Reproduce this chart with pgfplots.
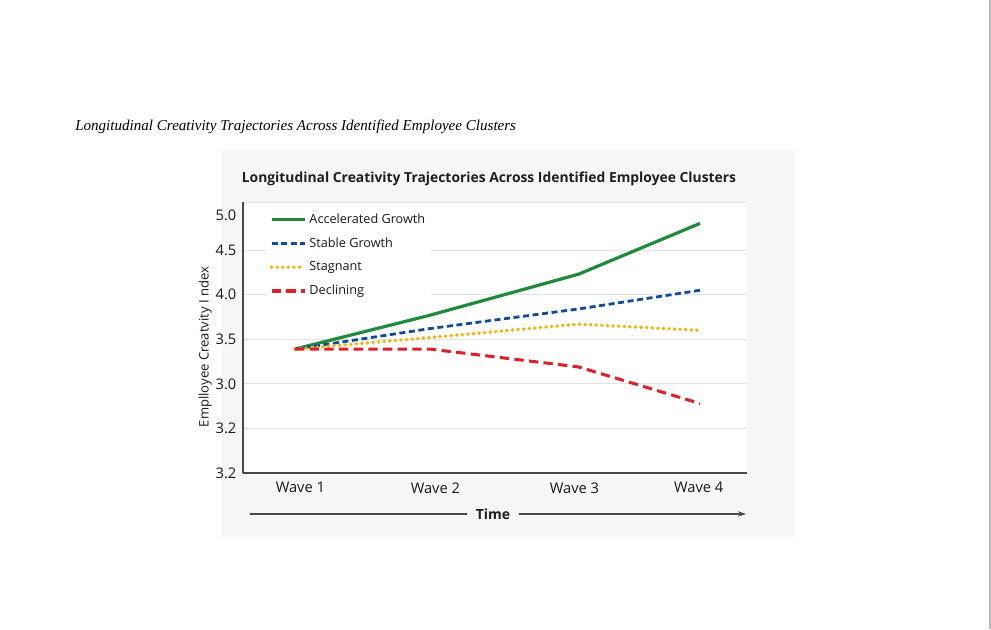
\documentclass[border=0pt]{standalone}
\usepackage{pgfplots}
\pgfplotsset{compat=1.18}
\usepackage{fontspec}
\setmainfont{Liberation Serif}
\newfontfamily\chartfont{Open Sans}
\usetikzlibrary{arrows.meta}

\definecolor{cgreen}{HTML}{1F8A3B}
\definecolor{cblue}{HTML}{0F4C9E}
\definecolor{cyellow}{HTML}{F5B30A}
\definecolor{cred}{HTML}{E02028}
\definecolor{cbox}{HTML}{F7F7F7}
\definecolor{caxis}{HTML}{4A4A4A}

\begin{document}
\begin{tikzpicture}[x=0.75pt,y=0.75pt]
\path[fill=white,use as bounding box] (0,0) rectangle (991,629);
\fill[cbox] (222,92) rectangle (795,479);
\draw[gray!55,line width=1.2pt] (990,0) -- (990,629);
\coordinate (O) at (243,156);

\node[anchor=west,inner sep=0pt,font=\fontsize{11.3}{13}\selectfont\itshape]
  at (75,502) {Longitudinal Creativity Trajectories Across Identified Employee Clusters};

\node[inner sep=0pt,font=\chartfont\bfseries\fontsize{10.4}{13}\selectfont,text=black!88]
  at (489,450) {Longitudinal Creativity Trajectories Across Identified Employee Clusters};

\begin{axis}[
at={(O)}, anchor=south west,
scale only axis,
width=378pt,
height=203.25pt,
axis background/.style={fill=white},
xmin=0.615, xmax=4.348,
ymin=2.0, ymax=5.04,
axis x line=bottom,
axis y line=left,
axis line style={draw=caxis,line width=1.1pt,-},
major tick length=0pt,
xtick={1.04,2.04,3.07,3.99},
xticklabels={Wave 1,Wave 2,Wave 3,Wave 4},
ytick={2.0,2.5,3.0,3.5,4.0,4.5,5.04},
yticklabels={3.2,3.2,3.0,3.5,4.0,4.5,{}},
extra y ticks={4.89},
extra y tick labels={5.0},
extra y tick style={grid=none},
ymajorgrids,
major grid style={draw=gray!22,line width=0.7pt},
ticklabel style={font=\chartfont\fontsize{11}{12}\selectfont,text=black!90},
xticklabel style={yshift=-3.5pt},
yticklabel style={xshift=-1.5pt},
ylabel={Emplloyee Creatvity I ndex},
ylabel style={at={(axis description cs:-0.075,0.465)},anchor=center,
  font=\chartfont\fontsize{9.8}{11}\selectfont,text=black!90},
legend cell align=left,
legend image code/.code={\draw[#1] (0pt,0pt) -- (25pt,0pt);},
legend style={at={(axis description cs:0.047,0.978)},anchor=north west,
  fill=white,draw=none,inner sep=2pt,row sep=5.3pt,
  font=\chartfont\fontsize{9.5}{11}\selectfont,text=black!90,
  /tikz/every even column/.append style={column sep=6pt}},
]

\addplot[cgreen,line width=2.4pt] coordinates {
(1,3.39) (2,3.77) (3.1,4.23) (4,4.80)
};
\addlegendentry{Accelerated Growth}

\addplot[cblue,line width=2.1pt,dash pattern=on 4.5pt off 2.7pt] coordinates {
(1,3.39) (2,3.62) (3.1,3.84) (4,4.05)
};
\addlegendentry{Stable Growth}

\addplot[cyellow,line width=2.9pt,line cap=round,dash pattern=on 0pt off 4.2pt] coordinates {
(1,3.39) (2,3.52) (3.1,3.67) (4,3.60)
};
\addlegendentry{Stagnant}

\addplot[cred,line width=2.3pt,dash pattern=on 7pt off 4pt] coordinates {
(1,3.39) (2,3.39) (3.1,3.19) (4,2.78)
};
\addlegendentry{Declining}

\end{axis}

\draw[caxis,line width=0.8pt] (250,115) -- (467,115);
\node[inner sep=0pt,font=\chartfont\bfseries\fontsize{10.5}{12}\selectfont,text=black!88]
  at (493,115) {Time};
\draw[caxis,line width=0.8pt,-{Stealth[length=6pt,width=4pt]}] (519,115) -- (746,115);
\end{tikzpicture}
\end{document}
